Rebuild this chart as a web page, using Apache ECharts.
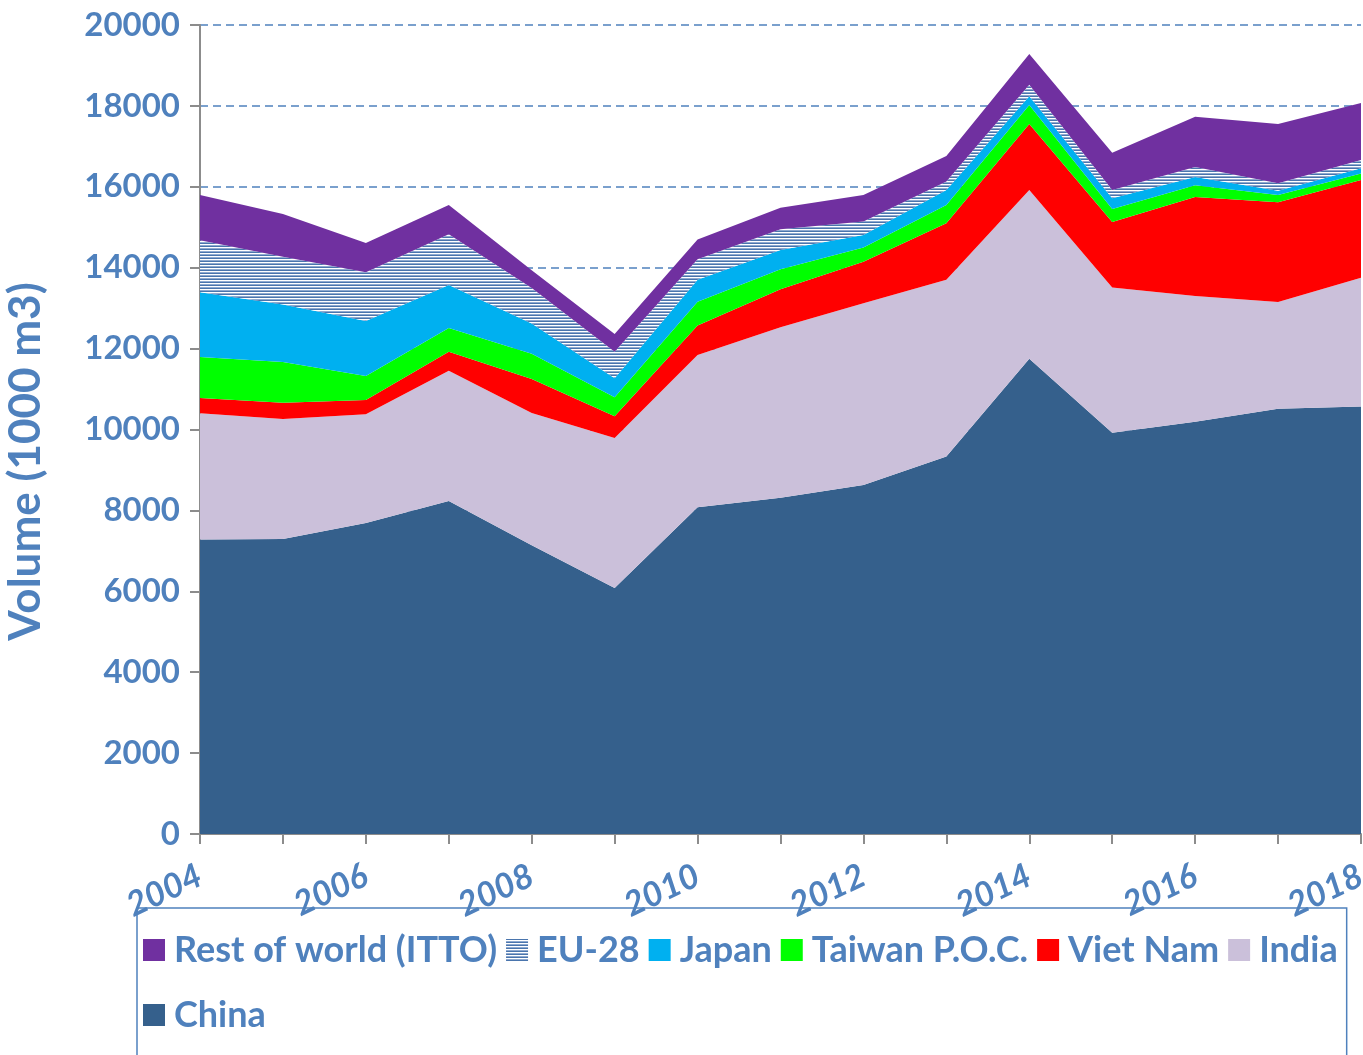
<!DOCTYPE html>
<html>
<head>
<meta charset="utf-8">
<script src="https://cdn.jsdelivr.net/npm/echarts@6/dist/echarts.min.js"></script>
<style>
  html, body { margin: 0; padding: 0; background: #fff; }
  #chart { width: 1363px; height: 1055px; }
</style>
</head>
<body>
<div id="chart"></div>
<script>
const years = ['2004', '2005', '2006', '2007', '2008', '2009', '2010', '2011', '2012', '2013', '2014', '2015', '2016', '2017', '2018'];

// volumes in 1000 m3
const china = [7280, 7290, 7690, 8230, 7140, 6080, 8080, 8310, 8630, 9330, 11750, 9920, 10190, 10510, 10570];
const india = [3120, 2970, 2690, 3220, 3270, 3710, 3760, 4220, 4490, 4370, 4170, 3590, 3110, 2640, 3180];
const vietNam = [380, 400, 350, 470, 840, 540, 730, 940, 1030, 1400, 1630, 1620, 2450, 2470, 2420];
const taiwan = [1010, 1010, 590, 590, 620, 470, 590, 490, 350, 450, 470, 320, 290, 180, 160];
const japan = [1600, 1420, 1360, 1060, 750, 470, 540, 480, 310, 370, 220, 270, 200, 100, 130];
const eu28 = [1290, 1180, 1210, 1260, 880, 650, 510, 510, 330, 210, 280, 200, 250, 190, 200];
const restOfWorld = [1120, 1060, 720, 720, 440, 440, 490, 530, 660, 630, 760, 920, 1240, 1460, 1410];

const yTicks = [0, 2000, 4000, 6000, 8000, 10000, 12000, 14000, 16000, 18000, 20000];

const blue = '#4f81bd';
const font = 'Lato, "Open Sans", sans-serif';

// horizontal stripes for EU-28
function stripes() {
  const c = document.createElement('canvas');
  c.width = 4;
  c.height = 3;
  const ctx = c.getContext('2d');
  const rows = ['#4a75ad', '#ffffff', '#8ea9d0'];
  rows.forEach((col, i) => {
    ctx.fillStyle = col;
    ctx.fillRect(0, i, 4, 1);
  });
  return c;
}
const hatch = { image: stripes(), repeat: 'repeat' };

function area(name, data, color) {
  return {
    name: name,
    type: 'line',
    stack: 'total',
    data: data,
    showSymbol: false,
    symbol: 'none',
    lineStyle: { width: 0 },
    areaStyle: { color: color, opacity: 1 },
    itemStyle: { color: color },
    emphasis: { disabled: true },
    animation: false
  };
}

const chart = echarts.init(document.getElementById('chart'));
chart.setOption({
  animation: false,
  grid: { left: 200, right: 2, top: 25, bottom: 221, outerBoundsMode: 'none' },
  legend: {
    left: 137,
    top: 908,
    width: 1210,
    padding: [14, 9, 200, 6],
    borderColor: blue,
    borderWidth: 1.5,
    itemWidth: 22,
    itemHeight: 22,
    itemGap: 9,
    icon: 'rect',
    data: ['Rest of world (ITTO)', 'EU-28', 'Japan', 'Taiwan P.O.C.', 'Viet Nam', 'India', 'China'],
    textStyle: {
      color: blue,
      fontSize: 36,
      fontWeight: 'bold',
      fontFamily: font,
      padding: [0, 0, 0, 4],
      lineHeight: 56
    }
  },
  xAxis: {
    type: 'category',
    boundaryGap: false,
    data: years,
    axisLine: { show: true, lineStyle: { color: '#8c8c8c', width: 2 } },
    axisTick: { show: true, interval: 0, length: 10, lineStyle: { color: '#8c8c8c', width: 2 } },
    axisLabel: {
      interval: 1,
      rotate: 25,
      margin: 40,
      color: blue,
      fontSize: 34,
      fontWeight: 'bold',
      fontStyle: 'italic',
      fontFamily: font
    },
    splitLine: { show: false }
  },
  yAxis: {
    type: 'value',
    min: yTicks[0],
    max: yTicks[yTicks.length - 1],
    interval: 2000,
    name: 'Volume (1000 m3)',
    nameLocation: 'middle',
    nameRotate: 90,
    nameGap: 152,
    nameTextStyle: {
      color: blue,
      fontSize: 44,
      fontWeight: 'bold',
      fontFamily: font,
      padding: [0, 64, 0, 0]
    },
    axisLine: { show: true, lineStyle: { color: '#8c8c8c', width: 2 } },
    axisTick: { show: true, length: 10, lineStyle: { color: '#8c8c8c', width: 2 } },
    axisLabel: {
      margin: 20,
      color: blue,
      fontSize: 33,
      fontWeight: 'bold',
      fontFamily: font,
      formatter: v => String(v)
    },
    splitLine: {
      show: true,
      lineStyle: { color: blue, type: [8, 5], width: 1.5 }
    }
  },
  series: [
    area('China', china, '#35608c'),
    area('India', india, '#cbc0da'),
    area('Viet Nam', vietNam, '#ff0000'),
    area('Taiwan P.O.C.', taiwan, '#00ff00'),
    area('Japan', japan, '#00b0f0'),
    area('EU-28', eu28, hatch),
    area('Rest of world (ITTO)', restOfWorld, '#7030a0')
  ]
});
</script>
</body>
</html>
